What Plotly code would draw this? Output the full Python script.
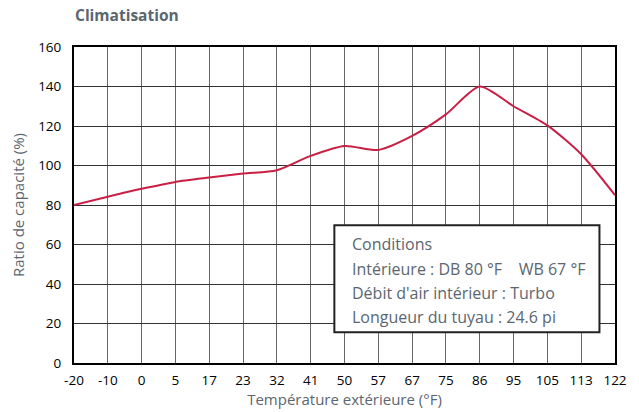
import plotly.graph_objects as go

temps = ["-20", "-10", "0", "5", "17", "23", "32", "41", "50", "57", "67", "75", "86", "95", "105", "113", "122"]
ratio = [80, 84.2, 88.2, 91.7, 93.9, 95.9, 97.6, 104.9, 109.9, 107.9, 115, 125.9, 140, 130, 120.3, 105.7, 85]
y_ticks = [0, 20, 40, 60, 80, 100, 120, 140, 160]
cond_lines = ["Conditions", "Intérieure : DB 80 °F    WB 67 °F", "Débit d'air intérieur : Turbo", "Longueur du tuyau : 24.6 pi"]

idx = list(range(len(temps)))
FONT = "Open Sans"
GRAY = "#5b6670"
W, H = 639, 412
L, T, B, R = 74, 47, 48, 16

fig = go.Figure()
fig.add_trace(go.Scatter(x=idx, y=ratio, mode="lines",
                         line=dict(color="#c91f43", width=2, shape="spline", smoothing=0.7),
                         hoverinfo="skip", showlegend=False))

fig.update_layout(
    width=W, height=H,
    margin=dict(l=L, r=R, t=T, b=B),
    paper_bgcolor="white", plot_bgcolor="white",
    font=dict(family=FONT, color="black", size=13.5),
    title=dict(text="<b>Climatisation</b>", x=75 / W, xanchor="left", y=1 - 16 / H, yanchor="middle",
               font=dict(size=15.5, color=GRAY, family=FONT)),
    xaxis=dict(range=[0, 16], tickmode="array", tickvals=idx, ticktext=temps,
               showgrid=True, gridcolor="#666666", gridwidth=1, zeroline=False,
               showline=True, linecolor="black", linewidth=2, mirror=True,
               ticks="", ticklabelstandoff=4,
               title=dict(text="Température extérieure (°F)", font=dict(size=15, color=GRAY), standoff=0)),
    yaxis=dict(range=[0, 160], tickmode="array", tickvals=y_ticks,
               showgrid=True, gridcolor="#333333", gridwidth=1, zeroline=False,
               showline=True, linecolor="black", linewidth=2, mirror=True,
               ticks="", ticklabelstandoff=8,
               title=dict(text="Ratio de capacité (%)", font=dict(size=15, color=GRAY), standoff=10)),
)

fig.add_shape(type="rect", xref="x", yref="y", x0=7.7, x1=15.54, y0=15.6, y1=69.7,
              fillcolor="white", line=dict(color="#222222", width=2), layer="above")

for i, t in enumerate(cond_lines):
    fig.add_annotation(text=t, xref="paper", yref="paper",
                       x=(354 - 74) / 549, y=(364 - (245 + 24.3 * i)) / 317,
                       xanchor="left", yanchor="middle", showarrow=False,
                       font=dict(size=16, color=GRAY, family=FONT))

fig.write_html("out.html", config={"displayModeBar": False},
               post_script="document.body.style.margin='0';document.body.style.overflow='hidden';")
